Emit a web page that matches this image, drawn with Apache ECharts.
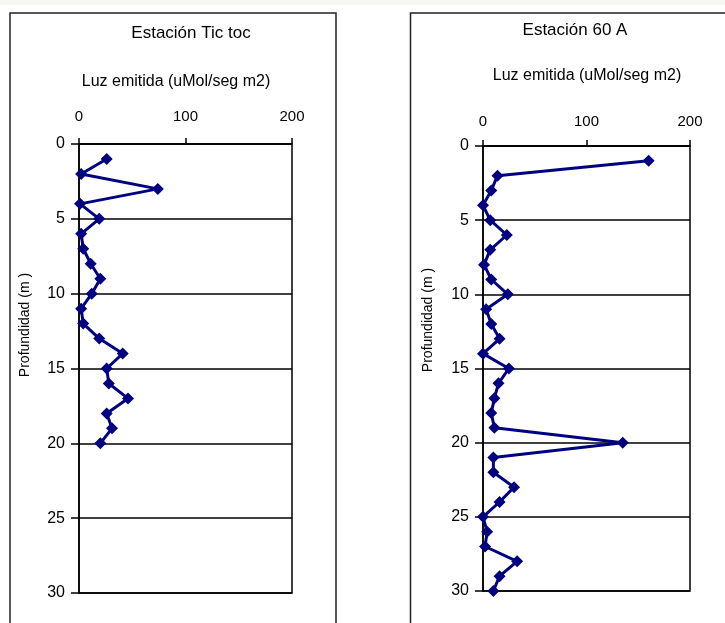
<!DOCTYPE html>
<html>
<head>
<meta charset="utf-8">
<script src="https://cdn.jsdelivr.net/npm/echarts@6/dist/echarts.min.js"></script>
<style>
html,body{margin:0;padding:0;background:#fff;}
#c{width:725px;height:623px;}
</style>
</head>
<body>
<div id="c"></div>
<script>
const depthTicToc = [1,2,3,4,5,6,7,8,9,10,11,12,13,14,15,16,17,18,19,20];
const luzTicToc = [26,2,74,1,19,2,4,11,20,12,2,4,19,41,26,28,46,26,31,20];
const depth60A = [1,2,3,4,5,6,7,8,9,10,11,12,13,14,15,16,17,18,19,20,21,22,23,24,25,26,27,28,29,30];
const luz60A = [160,14,8,0,7,23,7,1,8,24,3,8,16,0,25,15,11,8,11,135,10,10,30,16,0,4,2,33,16,10];
const xTicks = [0,100,200];
const titles = ['Estación Tic toc','Estación 60 A'];
const xName = 'Luz emitida (uMol/seg m2)';
const yName = 'Profundidad (m )';

const FONT = '"Liberation Sans", Arial, sans-serif';
const chart = echarts.init(document.getElementById('c'));

function xAx(gi, margin){
  return {
    gridIndex: gi, type: 'value', position: 'top', min: 0, max: 200, interval: 100,
    axisLine: {show: true, lineStyle: {color: '#000', width: 1.5}},
    axisTick: {show: true, inside: false, length: 6, lineStyle: {color: '#000', width: 1.5}},
    axisLabel: {margin: margin, color: '#000', fontSize: 15, fontFamily: FONT,
      formatter: v => xTicks.includes(v) ? String(v) : ''},
    splitLine: {show: false}
  };
}
function yAx(gi){
  return {
    gridIndex: gi, type: 'value', inverse: true, min: 0, max: 30, interval: 5,
    axisLine: {show: true, onZero: false, lineStyle: {color: '#000', width: 1.5}},
    axisTick: {show: true, inside: false, length: 8, lineStyle: {color: '#000', width: 1.5}},
    axisLabel: {margin: 14, color: '#000', fontSize: 16, fontFamily: FONT},
    splitLine: {show: true, lineStyle: {color: '#000', width: 1.5}}
  };
}
function ser(gi, xs, ys){
  return {
    type: 'line', xAxisIndex: gi, yAxisIndex: gi,
    data: xs.map((v, i) => [v, ys[i]]),
    symbol: 'diamond', symbolSize: 12,
    lineStyle: {color: '#000080', width: 3},
    itemStyle: {color: '#000080'},
    animation: false
  };
}

chart.setOption({
  backgroundColor: '#fff',
  animation: false,
  grid: [
    {left: 79, top: 144, width: 213, height: 449, show: true, borderColor: '#000', borderWidth: 1.5, backgroundColor: 'transparent'},
    {left: 483, top: 146, width: 207, height: 445, show: true, borderColor: '#000', borderWidth: 1.5, backgroundColor: 'transparent'}
  ],
  xAxis: [xAx(0, 20), xAx(1, 17)],
  yAxis: [yAx(0), yAx(1)],
  series: [ser(0, luzTicToc, depthTicToc), ser(1, luz60A, depth60A)],
  graphic: [
    {type: 'rect', shape: {x: 0, y: 0, width: 725, height: 5}, style: {fill: '#f6f6f2'}, silent: true, z: -10},
    {type: 'rect', shape: {x: 10, y: 13, width: 326, height: 640}, style: {fill: 'none', stroke: '#222', lineWidth: 1.5}, silent: true},
    {type: 'rect', shape: {x: 410.5, y: 13, width: 340, height: 640}, style: {fill: 'none', stroke: '#222', lineWidth: 1.5}, silent: true},
    {type: 'text', x: 191, y: 33, style: {text: titles[0], font: '17px ' + FONT, fill: '#000', textAlign: 'center', textVerticalAlign: 'middle'}},
    {type: 'text', x: 176, y: 82, style: {text: xName, font: '16px ' + FONT, fill: '#000', textAlign: 'center', textVerticalAlign: 'middle'}},
    {type: 'text', x: 575, y: 30, style: {text: titles[1], font: '17px ' + FONT, fill: '#000', textAlign: 'center', textVerticalAlign: 'middle'}},
    {type: 'text', x: 587, y: 76, style: {text: xName, font: '16px ' + FONT, fill: '#000', textAlign: 'center', textVerticalAlign: 'middle'}},
    {type: 'text', x: 25, y: 325, rotation: Math.PI / 2, style: {text: yName, font: '14px ' + FONT, fill: '#000', textAlign: 'center', textVerticalAlign: 'middle'}},
    {type: 'text', x: 428, y: 320, rotation: Math.PI / 2, style: {text: yName, font: '14px ' + FONT, fill: '#000', textAlign: 'center', textVerticalAlign: 'middle'}}
  ]
});
</script>
</body>
</html>
